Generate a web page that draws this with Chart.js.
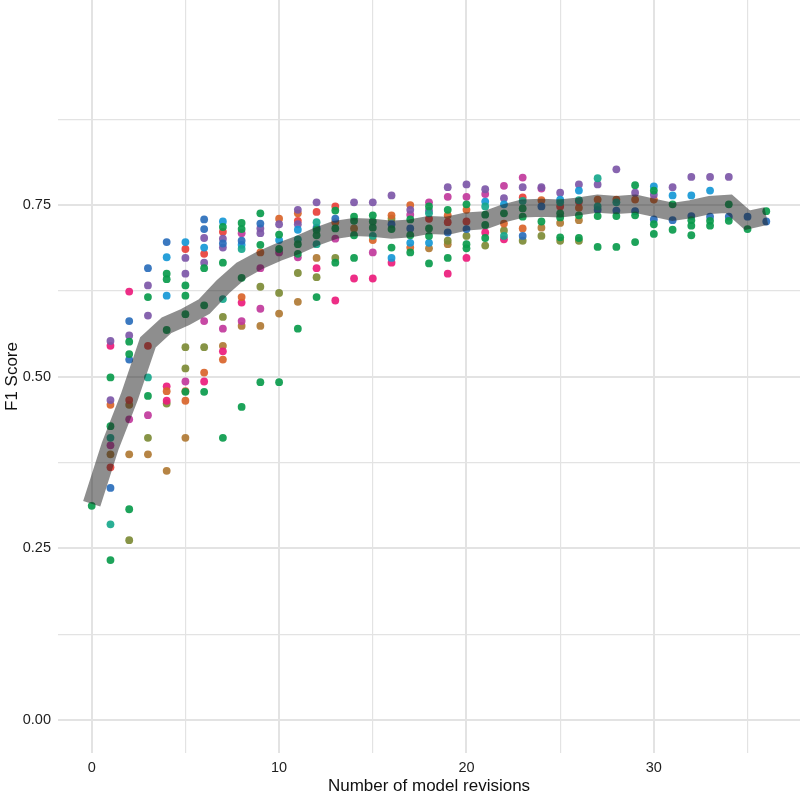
<!DOCTYPE html>
<html>
<head>
<meta charset="utf-8">
<script src="https://cdn.jsdelivr.net/npm/chart.js@4.4.1/dist/chart.umd.min.js"></script>
<style>
  body { margin: 0; background: #fff; }
  #wrap { width: 800px; height: 795px; }
</style>
</head>
<body>
<div id="wrap"><canvas id="f1-chart" width="800" height="795"></canvas></div>
<script>
// revisions 0..36 and the mean F1 (thick grey band)
var revisions = [0,1,2,3,4,5,6,7,8,9,10,11,12,13,14,15,16,17,18,19,20,21,22,23,24,25,26,27,28,29,30,31,32,33,34,35,36];
var meanF1 = [0.315,0.400,0.470,0.550,0.575,0.587,0.602,0.631,0.655,0.670,0.682,0.692,0.704,0.714,0.718,0.717,0.714,0.716,0.721,0.720,0.726,0.728,0.738,0.745,0.746,0.745,0.748,0.752,0.750,0.752,0.746,0.740,0.744,0.750,0.752,0.728,0.734];

var xTicks = [0,5,10,15,20,25,30,35];
var yTicks = [0,0.125,0.25,0.375,0.5,0.625,0.75,0.875];

// individual runs, [revision, F1]
var bluePts = [[1,0.338],[2,0.581],[2,0.525],[3,0.658],[4,0.696],[6,0.729],[6,0.715],[7,0.694],[8,0.698],[9,0.723],[12,0.717],[13,0.730],[16,0.722],[17,0.716],[19,0.710],[20,0.715],[23,0.705],[24,0.748],[27,0.743],[28,0.742],[29,0.741],[30,0.729],[31,0.728],[32,0.734],[33,0.733],[34,0.733],[35,0.733],[36,0.726]];
var cyanPts = [[4,0.674],[4,0.618],[5,0.696],[6,0.688],[7,0.726],[8,0.692],[10,0.699],[11,0.714],[16,0.673],[17,0.695],[18,0.695],[21,0.755],[22,0.751],[25,0.758],[26,0.771],[30,0.777],[31,0.764],[32,0.764],[33,0.771]];
var purplePts = [[1,0.552],[1,0.466],[2,0.560],[3,0.633],[3,0.589],[5,0.673],[5,0.650],[6,0.702],[6,0.666],[7,0.701],[7,0.688],[9,0.716],[9,0.709],[10,0.722],[11,0.743],[11,0.722],[12,0.754],[14,0.754],[15,0.754],[16,0.764],[17,0.743],[18,0.742],[19,0.776],[20,0.780],[21,0.773],[22,0.760],[23,0.776],[24,0.776],[25,0.768],[26,0.780],[27,0.780],[28,0.802],[29,0.768],[30,0.765],[31,0.776],[32,0.791],[33,0.791],[34,0.791]];
var redPts = [[1,0.368],[2,0.466],[3,0.545],[5,0.686],[6,0.679],[7,0.711],[11,0.727],[12,0.740],[13,0.748],[18,0.730],[19,0.725],[20,0.726],[23,0.761],[25,0.748],[26,0.755]];
var orangePts = [[1,0.459],[4,0.479],[5,0.479],[5,0.465],[6,0.506],[7,0.525],[8,0.616],[9,0.681],[10,0.730],[11,0.738],[13,0.725],[15,0.699],[16,0.735],[17,0.750],[17,0.688],[19,0.735],[20,0.743],[22,0.723],[23,0.716],[24,0.757],[26,0.746],[27,0.758],[28,0.758],[29,0.758],[30,0.758]];
var greenPts = [[0,0.312],[1,0.499],[1,0.428],[1,0.233],[2,0.551],[2,0.533],[2,0.307],[3,0.616],[3,0.472],[4,0.650],[4,0.642],[4,0.568],[5,0.633],[5,0.618],[5,0.591],[5,0.478],[6,0.658],[6,0.604],[6,0.478],[7,0.718],[7,0.666],[7,0.411],[8,0.724],[8,0.715],[8,0.644],[8,0.456],[9,0.738],[9,0.692],[9,0.492],[10,0.707],[10,0.686],[10,0.492],[11,0.693],[11,0.679],[11,0.570],[12,0.714],[12,0.706],[12,0.616],[13,0.742],[13,0.716],[13,0.666],[14,0.733],[14,0.727],[14,0.706],[14,0.673],[15,0.735],[15,0.726],[15,0.717],[16,0.715],[16,0.688],[17,0.729],[17,0.706],[17,0.681],[18,0.748],[18,0.716],[18,0.705],[18,0.665],[19,0.743],[19,0.673],[20,0.751],[20,0.693],[20,0.687],[21,0.736],[21,0.721],[21,0.702],[22,0.738],[23,0.745],[23,0.733],[24,0.726],[25,0.738],[25,0.732],[25,0.703],[26,0.735],[26,0.702],[27,0.734],[27,0.689],[28,0.734],[28,0.689],[29,0.779],[29,0.735],[29,0.696],[30,0.771],[30,0.722],[30,0.708],[31,0.751],[31,0.714],[32,0.728],[32,0.720],[32,0.706],[33,0.727],[33,0.720],[34,0.751],[34,0.727],[35,0.715],[36,0.741]];
var tealPts = [[1,0.411],[1,0.285],[3,0.499],[7,0.613],[8,0.686],[11,0.700],[12,0.725],[12,0.693],[15,0.705],[18,0.738],[21,0.748],[22,0.705],[23,0.756],[25,0.754],[26,0.757],[27,0.789],[27,0.748],[28,0.754]];
var magentaPts = [[1,0.400],[2,0.438],[3,0.444],[5,0.493],[6,0.581],[7,0.570],[8,0.709],[8,0.581],[9,0.658],[9,0.599],[10,0.681],[11,0.674],[13,0.701],[15,0.681],[17,0.736],[18,0.754],[19,0.762],[20,0.762],[21,0.766],[22,0.778],[23,0.790],[24,0.774]];
var pinkPts = [[1,0.545],[2,0.624],[4,0.486],[4,0.465],[6,0.493],[7,0.537],[8,0.608],[12,0.658],[13,0.611],[14,0.643],[15,0.643],[16,0.666],[19,0.650],[20,0.673],[21,0.710],[22,0.700]];
var olivePts = [[2,0.262],[3,0.411],[4,0.461],[5,0.543],[5,0.512],[6,0.543],[7,0.587],[9,0.631],[10,0.622],[11,0.651],[12,0.645],[13,0.673],[16,0.730],[19,0.698],[20,0.705],[21,0.691],[22,0.713],[23,0.698],[24,0.705],[25,0.698],[26,0.698]];
var tanPts = [[1,0.387],[2,0.459],[2,0.387],[3,0.387],[4,0.363],[5,0.411],[7,0.545],[8,0.574],[9,0.574],[10,0.592],[11,0.609],[12,0.673],[14,0.716],[18,0.687],[19,0.693],[24,0.717],[25,0.724],[26,0.728]];

var FONT = "'Liberation Sans', Arial, Helvetica, sans-serif";

function toXY(pts) {
    return pts.map(function(p) { return { x: p[0], y: p[1] }; });
}

function dots(pts, color) {
    return {
        type: 'scatter',
        data: toXY(pts),
        backgroundColor: color,
        borderWidth: 0,
        pointRadius: 3.9,
        pointHoverRadius: 3.9
    };
}

function isMajorY(v) {
    return Math.abs(v / 0.25 - Math.round(v / 0.25)) < 1e-6;
}

var ctx = document.getElementById('f1-chart').getContext('2d');
new Chart(ctx, {
    data: {
        datasets: [
            {
                type: 'line',
                data: revisions.map(function(r, i) { return { x: r, y: meanF1[i] }; }),
                borderColor: 'rgba(30,30,30,0.5)',
                borderWidth: 18,
                borderCapStyle: 'butt',
                borderJoinStyle: 'miter',
                pointRadius: 0,
                tension: 0,
                fill: false
            },
            dots(greenPts, 'rgba(10,155,76,0.92)'),
            dots(tealPts, 'rgba(24,168,140,0.92)'),
            dots(bluePts, 'rgba(42,110,187,0.92)'),
            dots(cyanPts, 'rgba(22,152,214,0.92)'),
            dots(purplePts, 'rgba(125,87,168,0.92)'),
            dots(redPts, 'rgba(232,64,58,0.92)'),
            dots(orangePts, 'rgba(217,100,42,0.92)'),
            dots(magentaPts, 'rgba(193,57,156,0.92)'),
            dots(pinkPts, 'rgba(236,28,124,0.92)'),
            dots(olivePts, 'rgba(125,139,54,0.92)'),
            dots(tanPts, 'rgba(176,122,52,0.92)')
        ]
    },
    options: {
        responsive: false,
        animation: false,
        layout: { padding: 0, autoPadding: false },
        plugins: { legend: { display: false }, tooltip: { enabled: false } },
        scales: {
            x: {
                type: 'linear',
                min: -1.8,
                max: 37.8,
                afterBuildTicks: function(s) { s.ticks = xTicks.map(function(v) { return { value: v }; }); },
                afterFit: function(s) { s.height = 42; s.paddingLeft = 0; s.paddingRight = 0; },
                border: { display: false },
                grid: {
                    drawTicks: false,
                    color: '#e3e3e3',
                    lineWidth: function(c) { return c.tick && c.tick.value % 10 === 0 ? 2 : 1.2; }
                },
                ticks: {
                    autoSkip: false,
                    maxRotation: 0,
                    padding: 6,
                    color: '#1e1e1e',
                    font: { family: FONT, size: 14.5 },
                    callback: function(v) { return v % 10 === 0 ? String(v) : ''; }
                },
                title: {
                    display: true,
                    text: 'Number of model revisions',
                    color: '#111',
                    font: { family: FONT, size: 17, lineHeight: 1 },
                    padding: { top: 0, bottom: 0 }
                }
            },
            y: {
                type: 'linear',
                min: -0.048,
                max: 1.0486,
                afterBuildTicks: function(s) { s.ticks = yTicks.map(function(v) { return { value: v }; }); },
                afterFit: function(s) { s.width = 58; s.paddingTop = 0; s.paddingBottom = 0; },
                border: { display: false },
                grid: {
                    drawTicks: false,
                    color: '#e3e3e3',
                    lineWidth: function(c) { return c.tick && isMajorY(c.tick.value) ? 2 : 1.2; }
                },
                ticks: {
                    autoSkip: false,
                    padding: 7,
                    color: '#1e1e1e',
                    font: { family: FONT, size: 14.5 },
                    callback: function(v) { return isMajorY(v) ? v.toFixed(2) : ''; }
                },
                title: {
                    display: true,
                    text: 'F1 Score',
                    color: '#111',
                    font: { family: FONT, size: 17, lineHeight: 1 },
                    padding: { top: 4, bottom: 0 }
                }
            }
        }
    }
});
</script>
</body>
</html>
